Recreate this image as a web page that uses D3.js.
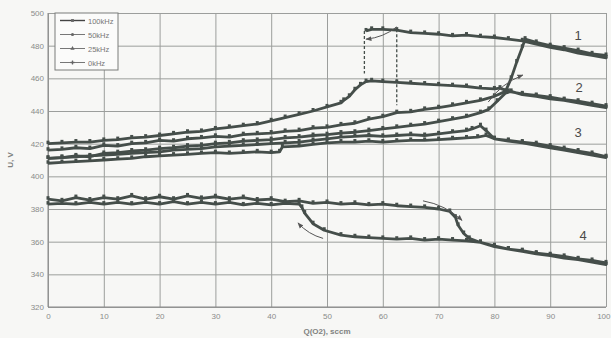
<!DOCTYPE html>
<html>
<head>
<meta charset="utf-8">
<script src="https://cdn.jsdelivr.net/npm/d3@7"></script>
<style>
  body { margin: 0; background: #f7f7f5; }
  svg { display: block; }
</style>
</head>
<body>
<div id="chart"></div>
<script>
// series names (legend order)
const seriesNames = ['100kHz', '50kHz', '25kHz', '0kHz'];

// curve 1 : forward branch then return branch, [Q, U]
const s100kHz = [
  [0,416],[2.5,416.5],[5,417.5],[7.5,417],[10,419],[12.5,418.5],[15,420],[17.5,420.5],[20,422],[22.5,421.5],
  [25,423],[27.5,423.5],[30,424.5],[32.5,424],[35,425.5],[37.5,426],[40,426.5],[42.5,427.5],[45,428],[47.5,429.5],
  [50,430],[52.5,431.5],[55,432.5],[57.5,435],[60,436.5],[62.5,439],[65,439.5],[67.5,441],[70,442],[72.5,443.5],
  [75,445],[77.5,446.5],[80,449],[82,452],[83,460],[84,470],[85,479],[85.5,484],[87.5,482],[90,480],
  [92.5,478.5],[95,477],[97.5,475],[100,474],
  [100,472.5],[97.5,474],[95,475.5],[92.5,477.5],[90,479],[87.5,481],[85,483],[82.5,484],[80,485],[77.5,485.5],
  [75,486.5],[72.5,486],[70,487],[67.5,487.5],[65,488],[62.5,489.5],[60,490],[58,490],[57,489]
];

// curve 2
const s50kHz = [
  [0,411],[2.5,411.5],[5,412.5],[7.5,412],[10,414],[12.5,414.5],[15,415.5],[17.5,416],[20,417],[22.5,417.5],
  [25,418.5],[27.5,419],[30,420],[32.5,420.5],[35,421.5],[37.5,422],[40,422.5],[42.5,423.5],[45,424],[47.5,425],
  [50,425.5],[52.5,426.5],[55,427],[57.5,428],[60,429],[62.5,430],[65,431],[67.5,432],[70,433.5],[72.5,435],
  [75,436.5],[77.5,439],[79,441],[80.5,446],[82,451],[83,452],[85,450],[87.5,449],[90,447.5],[92.5,446.5],
  [95,445],[97.5,443.5],[100,442],
  [100,443],[97.5,444.5],[95,446],[92.5,447],[90,448.5],[87.5,449.5],[85,450.5],[82.5,452],[81,454],[80,453.5],
  [77.5,454],[75,455],[72.5,455.5],[70,456],[67.5,456.5],[65,457],[62.5,457.5],[60,458],[58,458.5],[57,458],
  [56,456],[55,453],[54,449],[53,446.5],[52.5,445],[50,442.5],[47.5,440],[45,438],[42.5,436],[40,434],
  [37.5,432],[35,431],[32.5,430],[30,429],[27.5,427.5],[25,427],[22.5,426],[20,425],[17.5,424],[15,423.5],
  [12.5,422.5],[10,422],[7.5,421],[5,421],[2.5,420.5],[0,420]
];

// curve 3
const s25kHz = [
  [0,408],[2.5,408.5],[5,409],[7.5,409.5],[10,410],[12.5,410.5],[15,411],[17.5,412],[20,412.5],[22.5,413],
  [25,413.5],[27.5,414],[30,414.5],[32.5,414],[35,414.5],[37.5,415],[40,414.5],[41.5,415],[42,418],[45,418.5],
  [47.5,419.5],[50,420.5],[52.5,421],[55,421],[57.5,421.5],[60,421],[62.5,421.5],[65,422],[67.5,422],[70,422.5],
  [72.5,423],[75,423.5],[77,424],[78.5,425],[80,423],[82.5,422],[85,421],[87.5,420],[90,418.5],[92.5,417],
  [95,415.5],[97.5,414],[100,412],
  [100,411.5],[97.5,413],[95,414.5],[92.5,416],[90,417.5],[87.5,419],[85,420.5],[82.5,421.5],[80,423],[78.5,428],
  [77.5,431],[76,429],[75,428],[72.5,427],[70,426],[67.5,425],[65,425.5],[62.5,425],[60,424.5],[57.5,425],
  [55,424.5],[52.5,424],[50,423],[47.5,422],[45,421],[42.5,420.5],[40,420],[37.5,419.5],[35,419],[32.5,418.5],
  [30,418],[27.5,417],[25,416.5],[22.5,416],[20,415],[17.5,414.5],[15,414],[12.5,413.5],[10,413],[7.5,412.5],
  [5,412],[2.5,411.5],[0,411]
];

// curve 4
const s0kHz = [
  [0,386],[2.5,385],[5,387],[7.5,385.5],[10,387],[12.5,386],[15,388],[17.5,386],[20,387.5],[22.5,386],
  [25,388],[27.5,386.5],[30,387.5],[32.5,386],[35,387],[37.5,385.5],[40,386],[42.5,384.5],[45,385],[47.5,383.5],
  [50,384],[52.5,383],[55,383.5],[57.5,382.5],[60,383],[62.5,382],[65,381.5],[67.5,381],[70,380],[72,378.5],
  [73,375],[73.5,370],[74.5,365],[75.5,362],[77.5,359.5],[80,357],[82.5,355.5],[85,354],[87.5,352.5],[90,351.5],
  [92.5,350],[95,349],[97.5,347.5],[100,346],
  [100,347],[97.5,348.5],[95,349.5],[92.5,351],[90,352],[87.5,353],[85,354.5],[82.5,355.5],[80,357.5],[77.5,359.5],
  [75,360.5],[72.5,361],[70,361.5],[67.5,361],[65,362],[62.5,361.5],[60,362],[57.5,362.5],[55,363],[52.5,364],
  [49.5,367],[47.5,371],[46,377.5],[45.5,381],[45,383],[42.5,383.5],[40,382.5],[37.5,383.5],[35,382.5],[32.5,384],
  [30,383],[27.5,384],[25,383],[22.5,384.5],[20,383],[17.5,384],[15,383],[12.5,384],[10,383],[7.5,384],
  [5,383],[2.5,383.5],[0,383]
];

// sparse jump segments [Q, U from, U to]
const jumps = [[56.7, 489, 463], [62.5, 490, 443.5]];

// hand drawn arrows [x1,y1,x2,y2] (head at second point)
const arrows = [[62.5, 491.5, 57, 484], [78.9, 445.5, 85.1, 462], [67.2, 385, 74.2, 373], [49.3, 362, 44.8, 371.5]];

// curve numbers
const curveLabels = [['1', 95, 486.5], ['2', 95.2, 455], ['3', 95, 427], ['4', 95.9, 364]];

const xTicks = [0, 10, 20, 30, 40, 50, 60, 70, 80, 90, 100];
const yTicks = [320, 340, 360, 380, 400, 420, 440, 460, 480, 500];

const W = 611, H = 338;
const margin = { top: 13, right: 5, bottom: 31, left: 48 };
const width = W - margin.left - margin.right;
const height = H - margin.top - margin.bottom;

const ink = '#454e4a';
const gridColor = '#9c9e9c';

const svg = d3.select('#chart')
  .append('svg')
  .attr('width', W)
  .attr('height', H)
  .style('font-family', "'Liberation Sans', Arial, sans-serif");

const g = svg.append('g')
  .attr('transform', `translate(${margin.left},${margin.top})`);

const x = d3.scaleLinear().domain([0, 100]).range([0, width]);
const y = d3.scaleLinear().domain([320, 500]).range([height, 0]);

// grid + axes
const yAxis = g.append('g')
  .call(d3.axisLeft(y).tickValues(yTicks).tickSize(-width).tickPadding(4));
const xAxis = g.append('g')
  .attr('transform', `translate(0,${height})`)
  .call(d3.axisBottom(x).tickValues(xTicks).tickSize(-height).tickPadding(6));
[xAxis, yAxis].forEach(a => {
  a.select('.domain').remove();
  a.selectAll('line').attr('stroke', gridColor).attr('stroke-width', 1);
  a.selectAll('text').attr('fill', '#8a8c8a').attr('font-size', 8);
});
// keep the last x label inside the picture
xAxis.selectAll('.tick text').filter(d => d === 100).attr('text-anchor', 'end').attr('dx', 4);
g.append('line').attr('x1', 0).attr('x2', 0).attr('y1', 0).attr('y2', height).attr('stroke', '#888');
g.append('line').attr('x1', 0).attr('x2', width).attr('y1', height).attr('y2', height).attr('stroke', '#888');

// axis titles
svg.append('text')
  .attr('x', margin.left + width / 2)
  .attr('y', 334)
  .attr('text-anchor', 'middle')
  .attr('font-size', 8)
  .attr('font-weight', 'bold')
  .attr('fill', '#808280')
  .text('Q(O2), sccm');
svg.append('text')
  .attr('transform', 'translate(13,160) rotate(-90)')
  .attr('text-anchor', 'middle')
  .attr('font-size', 8)
  .attr('font-weight', 'bold')
  .attr('fill', '#808280')
  .text('U, V');

// curves
const line = d3.line()
  .x(d => x(d[0]))
  .y(d => y(d[1]));

const allSeries = [s100kHz, s50kHz, s25kHz, s0kHz];
allSeries.forEach(s => {
  g.append('path')
    .datum(s)
    .attr('fill', 'none')
    .attr('stroke', ink)
    .attr('stroke-width', 2.8)
    .attr('stroke-linejoin', 'round')
    .attr('d', line);
  g.append('g')
    .selectAll('rect')
    .data(s)
    .join('rect')
    .attr('x', d => x(d[0]) - 1.5)
    .attr('y', d => y(d[1]) - 3)
    .attr('width', 3)
    .attr('height', 3.5)
    .attr('fill', ink);
});

// jumps
g.selectAll('.jump')
  .data(jumps)
  .join('line')
  .attr('class', 'jump')
  .attr('x1', d => x(d[0])).attr('x2', d => x(d[0]))
  .attr('y1', d => y(d[1])).attr('y2', d => y(d[2]))
  .attr('stroke', ink)
  .attr('stroke-width', 1.3)
  .attr('stroke-dasharray', '3,2');

// arrows
svg.append('defs').append('marker')
  .attr('id', 'head')
  .attr('viewBox', '0 0 10 10')
  .attr('refX', 9).attr('refY', 5)
  .attr('markerWidth', 6).attr('markerHeight', 6)
  .attr('orient', 'auto')
  .append('path')
  .attr('d', 'M0,1 L10,5 L0,9 z')
  .attr('fill', '#555');
g.selectAll('.arrow')
  .data(arrows)
  .join('path')
  .attr('class', 'arrow')
  .attr('fill', 'none')
  .attr('stroke', '#555')
  .attr('stroke-width', 1)
  .attr('marker-end', 'url(#head)')
  .attr('d', d => {
    const x1 = x(d[0]), y1 = y(d[1]), x2 = x(d[2]), y2 = y(d[3]);
    const cx = (x1 + x2) / 2 + (y2 - y1) * 0.15, cy = (y1 + y2) / 2 - (x2 - x1) * 0.15;
    return `M${x1},${y1} Q${cx},${cy} ${x2},${y2}`;
  });

// curve numbers
g.selectAll('.num')
  .data(curveLabels)
  .join('text')
  .attr('class', 'num')
  .attr('x', d => x(d[1]))
  .attr('y', d => y(d[2]) + 5)
  .attr('text-anchor', 'middle')
  .attr('font-size', 13)
  .attr('font-family', "'Liberation Sans', Arial, sans-serif")
  .attr('fill', '#4a4a4a')
  .text(d => d[0]);

// legend
const legend = g.append('g').attr('transform', 'translate(7,0)');
legend.append('rect')
  .attr('width', 63).attr('height', 57)
  .attr('fill', '#fbfbfa').attr('stroke', '#7a7c7a');
const symbols = [d3.symbolSquare, d3.symbolCircle, d3.symbolTriangle, d3.symbolCross];
seriesNames.forEach((name, i) => {
  const ly = 7.5 + i * 14;
  legend.append('line')
    .attr('x1', 5).attr('x2', 30).attr('y1', ly).attr('y2', ly)
    .attr('stroke', i === 0 ? '#444' : '#777').attr('stroke-width', i === 0 ? 1.4 : 1);
  legend.append('path')
    .attr('transform', `translate(17.5,${ly})`)
    .attr('d', d3.symbol().type(symbols[i]).size(8))
    .attr('fill', '#666');
  legend.append('text')
    .attr('x', 33).attr('y', ly + 3)
    .attr('font-size', 7.5)
    .attr('fill', '#777')
    .text(name);
});
</script>
</body>
</html>
